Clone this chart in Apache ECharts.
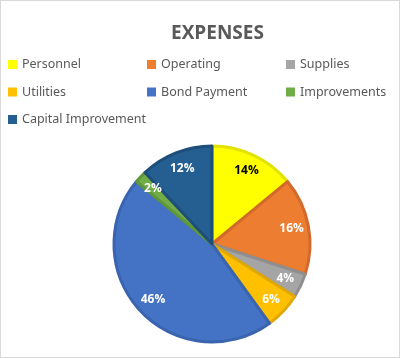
<!DOCTYPE html>
<html><head><meta charset="utf-8">
<script src="https://cdn.jsdelivr.net/npm/echarts@6/dist/echarts.min.js"></script>
<style>html,body{margin:0;padding:0;background:#fff}#c{width:398px;height:356px;border:1px solid #d9d9d9}</style>
</head><body><div id="c"></div>
<script>
var categories = ['Personnel','Operating','Supplies','Utilities','Bond Payment','Improvements','Capital Improvement'];
var values = [14,16,4,6,46,2,12];
var colors = ['#FFFF00','#ED7D31','#A5A5A5','#FFC000','#4472C4','#70AD47','#255E91'];
var borders = ['#E2E200','#D3692A','#8F8F8F','#E0A800','#3B64AE','#5F963B','#1E4E7A'];
var labelColors = ['#000','#fff','#fff','#fff','#fff','#fff','#fff'];

var chart = echarts.init(document.getElementById('c'));
var data = categories.map(function(n,i){return {name:n,value:values[i],itemStyle:{color:colors[i],borderColor:borders[i],borderWidth:3}};});
var labelData = categories.map(function(n,i){return {name:n,value:values[i],label:{color:labelColors[i]}};});
var txt = {color:'#595959',fontSize:12.5,fontFamily:'Noto Sans'};
function leg(names,left){return {data:names,left:left,top:57,orient:'vertical',itemGap:14.5,itemWidth:9,itemHeight:9,icon:'rect',itemStyle:{borderWidth:0},textStyle:txt,selectedMode:false,padding:0};}
chart.setOption({
  animation:false,
  title:{text:'EXPENSES',left:165,top:18,textStyle:{color:'#595959',fontSize:19,fontWeight:'bold',fontFamily:'Open Sans'}},
  legend:[leg(['Personnel','Utilities','Capital Improvement'],7),leg(['Operating','Bond Payment'],146),leg(['Supplies','Improvements'],285)],
  series:[
    {type:'pie',center:[211,243],radius:[0,98],startAngle:90,clockwise:true,label:{show:false},labelLine:{show:false},data:data,silent:true},
    {type:'pie',center:[211,243],radius:[58,98],startAngle:90,clockwise:true,silent:true,
     itemStyle:{color:'rgba(0,0,0,0)'},
     label:{show:true,position:'inside',formatter:'{d}%',fontSize:12,fontWeight:'bold',fontFamily:'Open Sans'},
     labelLine:{show:false},data:labelData,legendHoverLink:false}
  ]
});
</script></body></html>
